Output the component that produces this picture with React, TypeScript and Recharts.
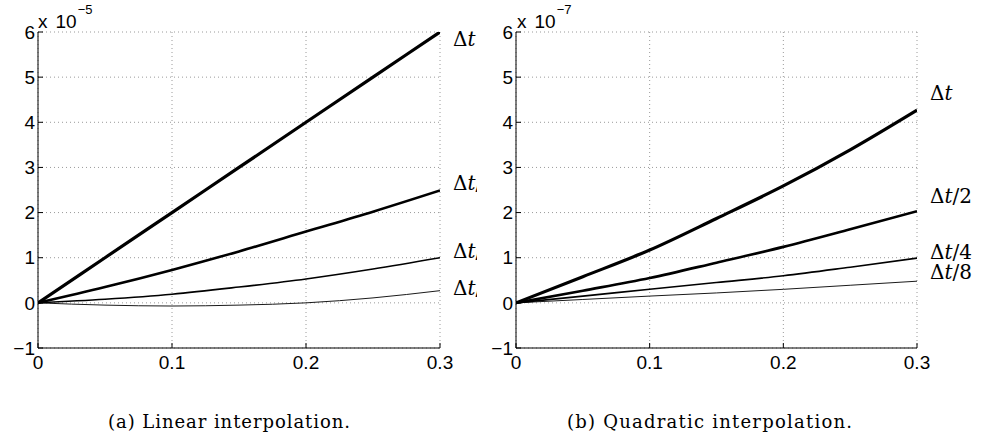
import React from 'react';
import { LineChart, Line, XAxis, YAxis, CartesianGrid } from 'recharts';

// ---- data ----
const xValues = [0, 0.05, 0.1, 0.15, 0.2, 0.25, 0.3];
const xTicks = [0, 0.1, 0.2, 0.3];
const yTicks = [-1, 0, 1, 2, 3, 4, 5, 6];
const seriesLabels = ['Δt', 'Δt/2', 'Δt/4', 'Δt/8'];

// (a) Linear interpolation, values in units of 1e-5
const linearExponent = -5;
const linDt = [0, 1, 2, 3, 4, 5, 6];
const linDt2 = [0, 0.35, 0.73, 1.14, 1.58, 2.02, 2.49];
const linDt4 = [0, 0.08, 0.19, 0.35, 0.53, 0.75, 1.0];
const linDt8 = [0, -0.05, -0.07, -0.05, 0.0, 0.11, 0.27];

// (b) Quadratic interpolation, values in units of 1e-7
const quadExponent = -7;
const quadDt = [0, 0.58, 1.17, 1.87, 2.59, 3.39, 4.27];
const quadDt2 = [0, 0.27, 0.55, 0.89, 1.24, 1.63, 2.03];
const quadDt4 = [0, 0.15, 0.3, 0.45, 0.6, 0.79, 0.99];
const quadDt8 = [0, 0.075, 0.15, 0.22, 0.3, 0.39, 0.48];

const captionA = '(a) Linear interpolation.';
const captionB = '(b) Quadratic interpolation.';

// ---- helpers ----
const buildRows = (series: number[][]) =>
  xValues.map((x, i) => {
    const row: Record<string, number> = { x };
    series.forEach((s, k) => {
      row['s' + k] = s[i];
    });
    return row;
  });

const linearRows = buildRows([linDt, linDt2, linDt4, linDt8]);
const quadRows = buildRows([quadDt, quadDt2, quadDt4, quadDt8]);

const fmtX = (v: number) => (v === 0 ? '0' : v.toFixed(1));
const fmtY = (v: number) => (v < 0 ? '\u2212' + Math.abs(v) : String(v));

const widths = [3.2, 2.6, 1.6, 0.9];

const makeLabel = (text: string, dy: number) => (props: any) => {
  const { x, y, index } = props;
  if (index !== xValues.length - 1) return null;
  const rest = text.slice(2);
  return (
    <text
      x={x + 13}
      y={y + dy + 7}
      fontFamily="'DejaVu Serif', serif"
      fontSize={20}
      fill="#000"
    >
      Δ<tspan fontStyle="italic">t</tspan>
      {rest}
    </text>
  );
};

const tickFont = { fill: '#000', fontSize: 19, fontFamily: "'Liberation Sans', Arial, sans-serif" };

type PanelProps = {
  rows: Record<string, number>[];
  width: number;
  yAxisWidth: number;
  marginRight: number;
  labelDy: number[];
};

const Panel = ({ rows, width, yAxisWidth, marginRight, labelDy }: PanelProps) => (
  <LineChart
    width={width}
    height={380}
    data={rows}
    margin={{ top: 32, right: marginRight, bottom: 2, left: 0 }}
  >
    <CartesianGrid stroke="#9a9a9a" strokeDasharray="1 3" />
    <XAxis
      dataKey="x"
      type="number"
      domain={[0, 0.3]}
      ticks={xTicks}
      tickFormatter={fmtX}
      tickSize={-5}
      tickMargin={13}
      height={30}
      axisLine={{ stroke: '#000' }}
      tickLine={{ stroke: '#000' }}
      tick={tickFont}
      allowDataOverflow
      interval={0}
    />
    <XAxis
      xAxisId="top"
      orientation="top"
      dataKey="x"
      type="number"
      domain={[0, 0.3]}
      ticks={xTicks}
      tickSize={-5}
      height={0}
      axisLine={{ stroke: '#000' }}
      tickLine={{ stroke: '#000' }}
      tick={false}
      allowDataOverflow
      interval={0}
    />
    <YAxis
      type="number"
      domain={[-1, 6]}
      ticks={yTicks}
      tickFormatter={fmtY}
      tickSize={-5}
      tickMargin={8}
      width={yAxisWidth}
      axisLine={{ stroke: '#000' }}
      tickLine={{ stroke: '#000' }}
      tick={tickFont}
      allowDataOverflow
      interval={0}
    />
    <YAxis
      yAxisId="right"
      orientation="right"
      type="number"
      domain={[-1, 6]}
      ticks={yTicks}
      tickSize={-5}
      width={0}
      axisLine={{ stroke: '#000' }}
      tickLine={{ stroke: '#000' }}
      tick={false}
      allowDataOverflow
      interval={0}
    />
    {seriesLabels.map((name, k) => (
      <Line
        key={name}
        dataKey={'s' + k}
        type="monotone"
        stroke="#000"
        strokeWidth={widths[k]}
        dot={false}
        isAnimationActive={false}
        label={makeLabel(name, labelDy[k])}
      />
    ))}
  </LineChart>
);

const expFont = "'Liberation Sans', Arial, sans-serif";

export default function App() {
  return (
    <div style={{ position: 'absolute', left: 0, top: 0, width: 988, height: 448, background: '#fff' }}>
      <div style={{ position: 'absolute', left: 0, top: 0, width: 477, height: 380, overflow: 'hidden' }}>
        <Panel rows={linearRows} width={484} yAxisWidth={38} marginRight={44} labelDy={[7, -7, -7, -3]} />
      </div>
      <div style={{ position: 'absolute', left: 484, top: 0, width: 504, height: 380, overflow: 'hidden' }}>
        <Panel rows={quadRows} width={504} yAxisWidth={32} marginRight={71} labelDy={[-17.5, -15, -6, -9]} />
      </div>
      <svg
        width={988}
        height={448}
        style={{ position: 'absolute', left: 0, top: 0, pointerEvents: 'none' }}
      >
        <text x={38} y={28} fontFamily={expFont} fontSize={19} fill="#000">
          x<tspan dx={8}>10</tspan>
          <tspan dx={1} dy={-14} fontSize={13}>{'\u2212' + Math.abs(linearExponent)}</tspan>
        </text>
        <text x={517} y={28} fontFamily={expFont} fontSize={19} fill="#000">
          x<tspan dx={8}>10</tspan>
          <tspan dx={1} dy={-14} fontSize={13}>{'\u2212' + Math.abs(quadExponent)}</tspan>
        </text>
        <text
          x={108}
          y={428}
          fontFamily="'DejaVu Serif', serif"
          fontSize={18}
          fill="#000"
          textLength={242}
          lengthAdjust="spacing"
        >
          {captionA}
        </text>
        <text
          x={567}
          y={428}
          fontFamily="'DejaVu Serif', serif"
          fontSize={18}
          fill="#000"
          textLength={285}
          lengthAdjust="spacing"
        >
          {captionB}
        </text>
      </svg>
    </div>
  );
}
